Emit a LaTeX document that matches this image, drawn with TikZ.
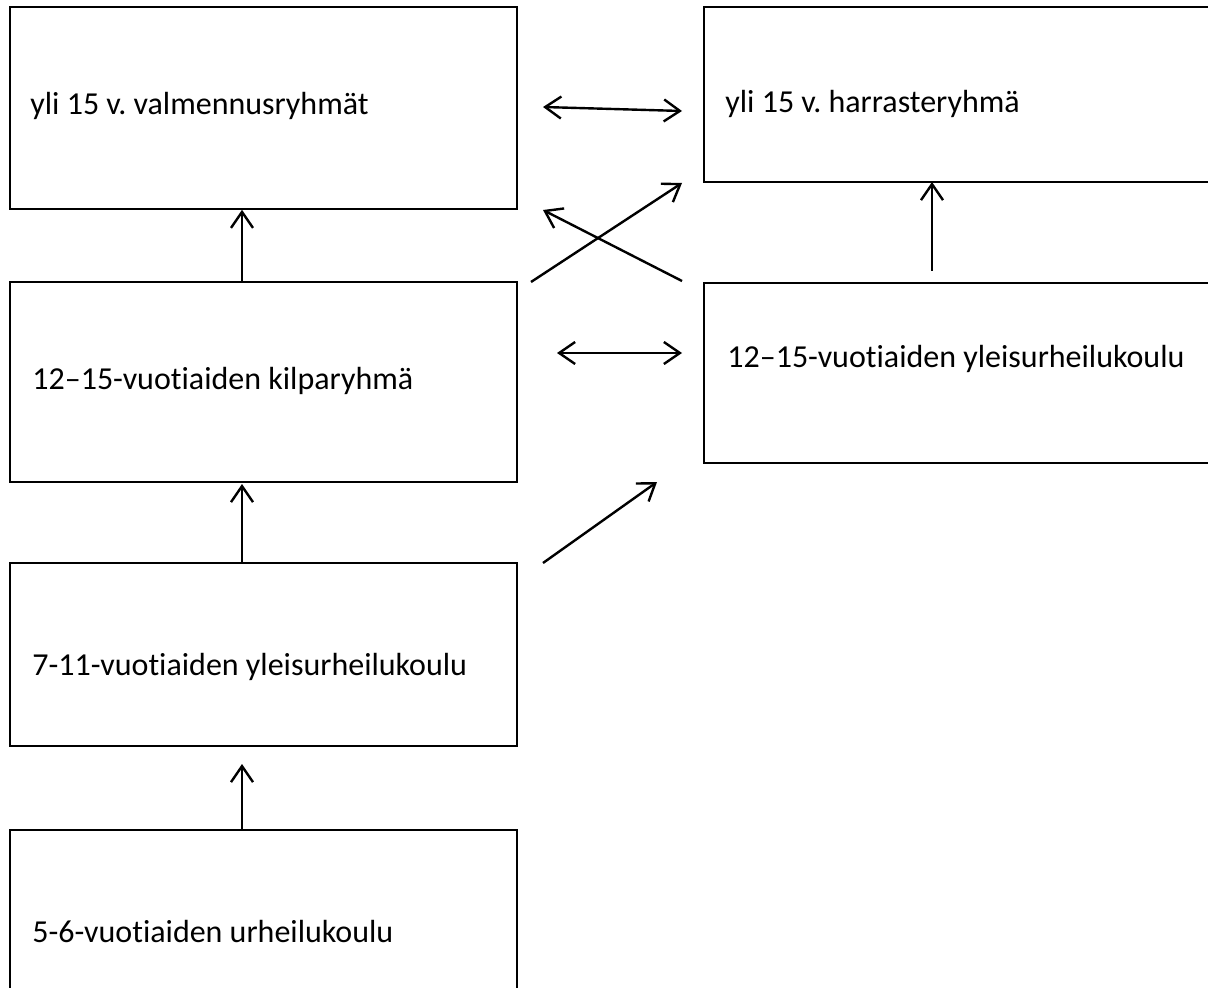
\documentclass[tikz,border=0pt]{standalone}
\usepackage{fontspec}
\setmainfont{Carlito}[Ligatures=NoCommon]
\usetikzlibrary{arrows.meta,fit}

\tikzset{group box/.style={draw,line width=0.8pt,inner sep=0pt},
group label/.style={font=\fontsize{16}{19}\selectfont,anchor=base west,inner sep=0pt},
flow/.style={line width=1.2pt,-{Straight Barb[length=8pt,width=11pt,line width=1.2pt]}},
both flow/.style={line width=1.2pt,{Straight Barb[length=8pt,width=11pt,line width=1.2pt]}-{Straight Barb[length=8pt,width=11pt,line width=1.2pt]}}}

\begin{document}
\frenchspacing
\begin{tikzpicture}[x=0.5pt,y=-0.5pt]
\useasboundingbox (0,0) rectangle (1208,988);
\clip (0,0) rectangle (1208,988);

%% Corners of the boxes.
\coordinate (a1) at (10,7);
\coordinate (a2) at (517,209);
\coordinate (b1) at (704,7);
\coordinate (b2) at (1240,182);
\coordinate (c1) at (10,282);
\coordinate (c2) at (517,482);
\coordinate (d1) at (704,283);
\coordinate (d2) at (1240,463);
\coordinate (e1) at (10,563);
\coordinate (e2) at (517,746);
\coordinate (f1) at (10,830);
\coordinate (f2) at (517,1010);

%% boxes
\node [group box,fit=(a1)(a2)] (valm) {};
\node [group box,fit=(b1)(b2)] (harr) {};
\node [group box,fit=(c1)(c2)] (kilp) {};
\node [group box,fit=(d1)(d2)] (yleis) {};
\node [group box,fit=(e1)(e2)] (seven) {};
\node [group box,fit=(f1)(f2)] (five) {};

%% Ends of the arrows.
\coordinate (p1) at (543,107);
\coordinate (p1q) at (682,111);
\coordinate (p2) at (531,282);
\coordinate (p2q) at (682,183);
\coordinate (p3) at (682,281);
\coordinate (p3q) at (543,210);
\coordinate (p4) at (557,353);
\coordinate (p4q) at (682,353);
\coordinate (p5) at (543,563);
\coordinate (p5q) at (657,482);
\coordinate (p6) at (932,271);
\coordinate (p6q) at (932,182);
\coordinate (p7) at (242,484);
\coordinate (p8) at (242,764);

%% vertical arrows
\draw [flow] (kilp.north -| p7) -- (valm.south -| p7);
\draw [flow] (seven.north -| p7) -- (p7);
\draw [flow] (five.north -| p8) -- (p8);
\draw [flow] (p6) -- (p6q);

%% cross arrows
\draw [both flow] (p1) -- (p1q);
\draw [both flow] (p4) -- (p4q);
\draw [flow] (p2) -- (p2q);
\draw [flow] (p3) -- (p3q);
\draw [flow] (p5) -- (p5q);

%% box labels
\node [group label] (tvalm) at (30,115) {yli 15 v. valmennusryhmät};
\node [group label] (tharr) at (725,113) {yli 15 v. harrasteryhmä};
\node [group label] (tkilp) at (32,390) {12–15-vuotiaiden kilparyhmä};
\node [group label] (tyleis) at (727,368) {12–15-vuotiaiden yleisurheilukoulu};
\node [group label] (tseven) at (32,675) {7-11-vuotiaiden yleisurheilukoulu};
\node [group label] (tfive) at (32,942) {5-6-vuotiaiden urheilukoulu};

\end{tikzpicture}
\end{document}
